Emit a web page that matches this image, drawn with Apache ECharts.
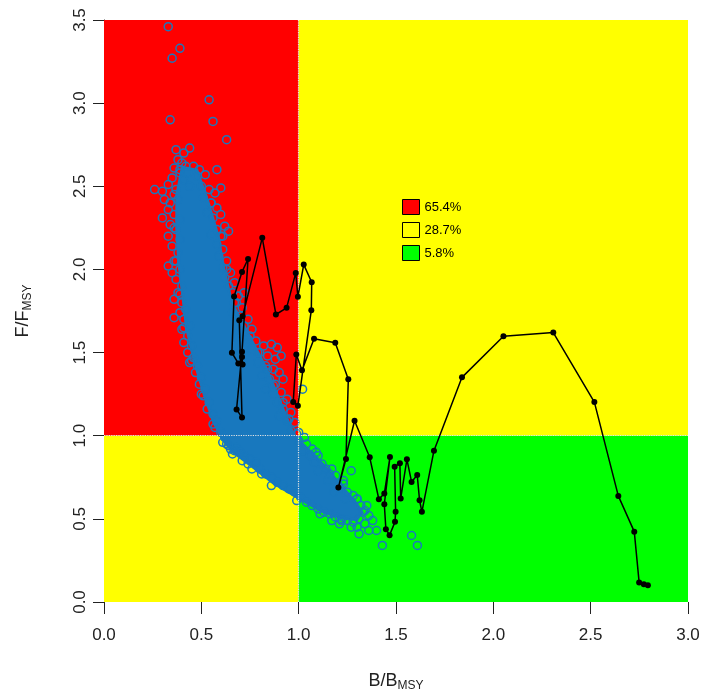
<!DOCTYPE html>
<html>
<head>
<meta charset="utf-8">
<script src="https://cdn.jsdelivr.net/npm/echarts@6/dist/echarts.min.js"></script>
<style>
  html, body { margin: 0; padding: 0; background: #ffffff; }
  #chart { width: 704px; height: 697px; }
</style>
</head>
<body>
<div id="chart"></div>
<script>
// Stock status (Kobe) plot: B/BMSY against F/FMSY.

// Probability of the current status falling in each quadrant
const probLabels = ['65.4%', '28.7%', '5.8%'];

// Reference points dividing the quadrants
const bRef = 1.0;
const fRef = 1.0;
const bMax = 3.0;
const fMax = 3.5;

// Historical trajectory, oldest year first: [B/BMSY, F/FMSY]
const trajectory = [
  [2.794, 0.100], [2.773, 0.106], [2.749, 0.118], [2.724, 0.423], [2.642, 0.638],
  [2.519, 1.202], [2.308, 1.620], [2.052, 1.598], [1.839, 1.351], [1.695, 0.910],
  [1.633, 0.542], [1.621, 0.612], [1.609, 0.764], [1.580, 0.722], [1.556, 0.858],
  [1.524, 0.622], [1.520, 0.834], [1.493, 0.814], [1.498, 0.542], [1.495, 0.482],
  [1.467, 0.402], [1.448, 0.438], [1.440, 0.588], [1.469, 0.872], [1.440, 0.652],
  [1.412, 0.618], [1.365, 0.870], [1.287, 1.090], [1.204, 0.688], [1.243, 0.860],
  [1.255, 1.339], [1.188, 1.559], [1.079, 1.583], [1.017, 1.393], [0.988, 1.489],
  [0.972, 1.202], [0.996, 1.180], [1.065, 1.755], [1.067, 1.923], [1.026, 2.029],
  [0.996, 1.835], [0.985, 1.979], [0.938, 1.769], [0.883, 1.729], [0.813, 2.190],
  [0.712, 1.719], [0.695, 1.695], [0.709, 1.109], [0.681, 1.158], [0.709, 1.505],
  [0.740, 2.063], [0.709, 1.985], [0.668, 1.837], [0.657, 1.499], [0.690, 1.435],
  [0.712, 1.429], [0.709, 1.474]
];

// Outline of the densest part of the current-status sample cloud
const cloudCore = [
  [0.40, 2.62], [0.37, 2.45], [0.37, 2.25], [0.38, 2.05], [0.40, 1.85], [0.42, 1.65],
  [0.46, 1.45], [0.51, 1.25], [0.56, 1.08], [0.61, 0.97], [0.66, 0.90], [0.75, 0.82],
  [0.87, 0.71], [1.00, 0.62], [1.12, 0.54], [1.22, 0.50], [1.30, 0.49], [1.33, 0.54],
  [1.29, 0.61], [1.22, 0.70], [1.16, 0.79], [1.08, 0.89], [0.98, 1.00], [0.91, 1.20],
  [0.84, 1.40], [0.75, 1.60], [0.66, 1.80], [0.62, 2.00], [0.59, 2.20], [0.54, 2.40],
  [0.48, 2.60]
];

// Individual current-status samples around the core
const cloudSamples = [
  [0.33, 3.46], [0.39, 3.33], [0.35, 3.27], [0.54, 3.02], [0.34, 2.90], [0.56, 2.89], [0.63, 2.78],
  [0.37, 2.72], [0.41, 2.70], [0.44, 2.73], [0.38, 2.66], [0.40, 2.64], [0.42, 2.62], [0.36, 2.61],
  [0.39, 2.58], [0.43, 2.58], [0.46, 2.62], [0.35, 2.55], [0.41, 2.54], [0.48, 2.56], [0.52, 2.57],
  [0.58, 2.60], [0.26, 2.48], [0.30, 2.47], [0.33, 2.51], [0.37, 2.48], [0.44, 2.50], [0.50, 2.50],
  [0.54, 2.48], [0.57, 2.46], [0.60, 2.49],
  [0.31, 2.42], [0.34, 2.40], [0.38, 2.42], [0.33, 2.36], [0.36, 2.33], [0.30, 2.31], [0.39, 2.30],
  [0.34, 2.27], [0.37, 2.24], [0.33, 2.20], [0.39, 2.18], [0.51, 2.43], [0.55, 2.40], [0.58, 2.37],
  [0.53, 2.34], [0.56, 2.31], [0.60, 2.33], [0.62, 2.26], [0.58, 2.24], [0.55, 2.21], [0.61, 2.20],
  [0.64, 2.23],
  [0.35, 2.14], [0.38, 2.10], [0.36, 2.05], [0.33, 2.02], [0.35, 1.98], [0.39, 2.00], [0.37, 1.94],
  [0.40, 1.90], [0.38, 1.86], [0.58, 2.15], [0.61, 2.12], [0.59, 2.08], [0.63, 2.05], [0.61, 2.01],
  [0.65, 1.98], [0.62, 1.95], [0.67, 1.92], [0.64, 1.90],
  [0.36, 1.82], [0.40, 1.80], [0.42, 1.76], [0.39, 1.74], [0.36, 1.71], [0.41, 1.70], [0.44, 1.66],
  [0.40, 1.64], [0.43, 1.60], [0.66, 1.86], [0.69, 1.84], [0.72, 1.86], [0.68, 1.80], [0.71, 1.77],
  [0.66, 1.74], [0.70, 1.72], [0.74, 1.70], [0.72, 1.66], [0.76, 1.64], [0.70, 1.62],
  [0.41, 1.56], [0.45, 1.54], [0.43, 1.50], [0.46, 1.47], [0.44, 1.44], [0.48, 1.42], [0.47, 1.38],
  [0.50, 1.35], [0.49, 1.31], [0.74, 1.58], [0.78, 1.57], [0.82, 1.54], [0.86, 1.55], [0.89, 1.53],
  [0.76, 1.52], [0.80, 1.50], [0.84, 1.48], [0.88, 1.46], [0.91, 1.48], [0.79, 1.44], [0.83, 1.42],
  [0.87, 1.40], [0.90, 1.38], [0.81, 1.36], [0.85, 1.34], [0.92, 1.34], [0.88, 1.31],
  [0.52, 1.28], [0.51, 1.24], [0.54, 1.20], [0.53, 1.16], [0.56, 1.13], [0.58, 1.09], [0.57, 1.05],
  [0.60, 1.02], [0.83, 1.28], [0.87, 1.25], [0.91, 1.26], [0.94, 1.22], [0.89, 1.20], [0.92, 1.16],
  [0.96, 1.14], [0.90, 1.12], [0.94, 1.09], [0.98, 1.08], [0.96, 1.03], [1.00, 1.02], [1.02, 1.28],
  [1.03, 0.99],
  [0.62, 0.99], [0.63, 0.95], [0.65, 0.92], [0.68, 0.93], [0.70, 0.90], [0.72, 0.88], [0.75, 0.86],
  [0.78, 0.84], [0.80, 0.80], [1.00, 0.97], [1.04, 0.95], [1.07, 0.92], [1.02, 0.91], [1.06, 0.88],
  [1.10, 0.88], [1.08, 0.84], [1.12, 0.83], [1.14, 0.80], [1.10, 0.79],
  [0.83, 0.77], [0.86, 0.75], [0.89, 0.72], [0.92, 0.70], [0.95, 0.68], [0.98, 0.66], [1.01, 0.63],
  [1.16, 0.77], [1.19, 0.76], [1.15, 0.73], [1.20, 0.71], [1.23, 0.73], [1.27, 0.79], [1.22, 0.68],
  [1.25, 0.66], [1.18, 0.66], [1.28, 0.64], [1.24, 0.62], [1.30, 0.62],
  [1.04, 0.60], [1.07, 0.58], [1.10, 0.56], [1.13, 0.54], [1.16, 0.53], [1.19, 0.51], [1.22, 0.50],
  [1.25, 0.49], [1.28, 0.48], [1.32, 0.58], [1.35, 0.58], [1.33, 0.54], [1.36, 0.52], [1.31, 0.50],
  [1.38, 0.49], [1.34, 0.47], [1.30, 0.45], [1.27, 0.45], [1.40, 0.43], [1.36, 0.43], [1.31, 0.41],
  [1.43, 0.34], [1.58, 0.40], [1.61, 0.34], [1.21, 0.47], [1.17, 0.49],
  [0.39, 2.60], [0.36, 2.45], [0.36, 2.25], [0.37, 2.05], [0.39, 1.85], [0.41, 1.65], [0.45, 1.45],
  [0.50, 1.25], [0.56, 1.07], [0.61, 0.96], [0.66, 0.89], [0.71, 0.85], [0.76, 0.80], [0.86, 0.70],
  [0.99, 0.61], [1.11, 0.53], [1.22, 0.49], [0.64, 0.94], [0.67, 0.91], [0.74, 0.83], [0.81, 0.77],
  [1.34, 0.55], [1.30, 0.62], [1.23, 0.71], [1.17, 0.80], [1.09, 0.90], [0.99, 1.01], [0.95, 1.10],
  [0.92, 1.20], [0.87, 1.30], [0.84, 1.40], [0.79, 1.50], [0.75, 1.60], [0.70, 1.70], [0.67, 1.80],
  [0.63, 2.00], [0.60, 2.20], [0.55, 2.40], [0.49, 2.60]
];

const FONT = '"Liberation Sans", Arial, sans-serif';
const RED = '#ff0000';
const YELLOW = '#ffff00';
const GREEN = '#00ff00';
const SAMPLE_BLUE = '#1878be';
const quadrantColors = [RED, YELLOW, GREEN];

const chart = echarts.init(document.getElementById('chart'), null, { renderer: 'canvas' });

function zone(x0, y0, x1, y1, color) {
  return [
    { xAxis: x0, yAxis: y0, itemStyle: { color: color, opacity: 1 } },
    { xAxis: x1, yAxis: y1 }
  ];
}

const legendSeries = probLabels.map(function (label, i) {
  return {
    name: label,
    type: 'scatter',
    data: [],
    itemStyle: { color: quadrantColors[i], borderColor: '#000', borderWidth: 1, opacity: 1 }
  };
});

const option = {
  animation: false,
  backgroundColor: '#ffffff',
  textStyle: { fontFamily: FONT },
  grid: { left: 104, right: 16, top: 20, bottom: 94, containLabel: false },
  legend: {
    data: probLabels,
    orient: 'vertical',
    left: 402,
    top: 199,
    itemWidth: 17,
    itemHeight: 15,
    itemGap: 7,
    icon: 'rect',
    selectedMode: false,
    padding: 0,
    itemStyle: { borderColor: '#000', borderWidth: 1, opacity: 1 },
    textStyle: { fontFamily: FONT, fontSize: 13, color: '#000' }
  },
  xAxis: {
    type: 'value',
    min: 0,
    max: bMax,
    interval: 0.5,
    name: 'B/B{s|MSY}',
    nameLocation: 'middle',
    nameGap: 68,
    nameTextStyle: {
      fontFamily: FONT, fontSize: 18, color: '#222',
      rich: { s: { fontFamily: FONT, fontSize: 12, color: '#222', padding: [10, 0, 0, 0] } }
    },
    axisLine: { show: false },
    axisTick: { show: true, length: 12, lineStyle: { color: '#222', width: 1 } },
    axisLabel: {
      margin: 25, fontFamily: FONT, fontSize: 17, color: '#222',
      formatter: function (v) { return v.toFixed(1); }
    },
    splitLine: { show: false }
  },
  yAxis: {
    type: 'value',
    min: 0,
    max: fMax,
    interval: 0.5,
    name: 'F/F{s|MSY}',
    nameLocation: 'middle',
    nameGap: 70,
    nameTextStyle: {
      fontFamily: FONT, fontSize: 18, color: '#222',
      rich: { s: { fontFamily: FONT, fontSize: 12, color: '#222', padding: [10, 0, 0, 0] } }
    },
    axisLine: { show: true, lineStyle: { color: '#222', width: 1 } },
    axisTick: { show: true, length: 11, lineStyle: { color: '#222', width: 1 } },
    axisLabel: {
      rotate: 90, margin: 15, fontFamily: FONT, fontSize: 17, color: '#222',
      formatter: function (v) { return v.toFixed(1); }
    },
    splitLine: { show: false }
  },
  series: [
    {
      // quadrant backgrounds
      type: 'line',
      data: [],
      z: 1,
      silent: true,
      markArea: {
        silent: true,
        data: [
          zone(0, fRef, bRef, fMax, RED),
          zone(bRef, fRef, bMax, fMax, YELLOW),
          zone(0, 0, bRef, fRef, YELLOW),
          zone(bRef, 0, bMax, fRef, GREEN)
        ]
      }
    },
    {
      // dense core of the sample cloud
      type: 'custom',
      z: 2,
      silent: true,
      data: [cloudCore[0]],
      renderItem: function (params, api) {
        return {
          type: 'polygon',
          shape: { points: cloudCore.map(function (p) { return api.coord(p); }) },
          style: { fill: SAMPLE_BLUE, stroke: SAMPLE_BLUE, lineWidth: 1.5 }
        };
      }
    },
    {
      type: 'scatter',
      z: 3,
      silent: true,
      data: cloudSamples,
      symbol: 'circle',
      symbolSize: 8,
      itemStyle: { color: 'rgba(0,0,0,0)', borderColor: SAMPLE_BLUE, borderWidth: 1.5, opacity: 1 }
    },
    {
      // reference lines at B = BMSY and F = FMSY
      type: 'line',
      data: [],
      z: 4,
      silent: true,
      markLine: {
        silent: true,
        symbol: 'none',
        label: { show: false },
        lineStyle: { color: '#e4e4e4', type: 'dotted', width: 1.2 },
        data: [{ xAxis: bRef }, { yAxis: fRef }]
      }
    },
    {
      type: 'line',
      z: 5,
      silent: true,
      data: trajectory,
      symbol: 'circle',
      symbolSize: 6,
      showAllSymbol: true,
      itemStyle: { color: '#000' },
      lineStyle: { color: '#000', width: 1.5 }
    }
  ].concat(legendSeries)
};

chart.setOption(option);
</script>
</body>
</html>
